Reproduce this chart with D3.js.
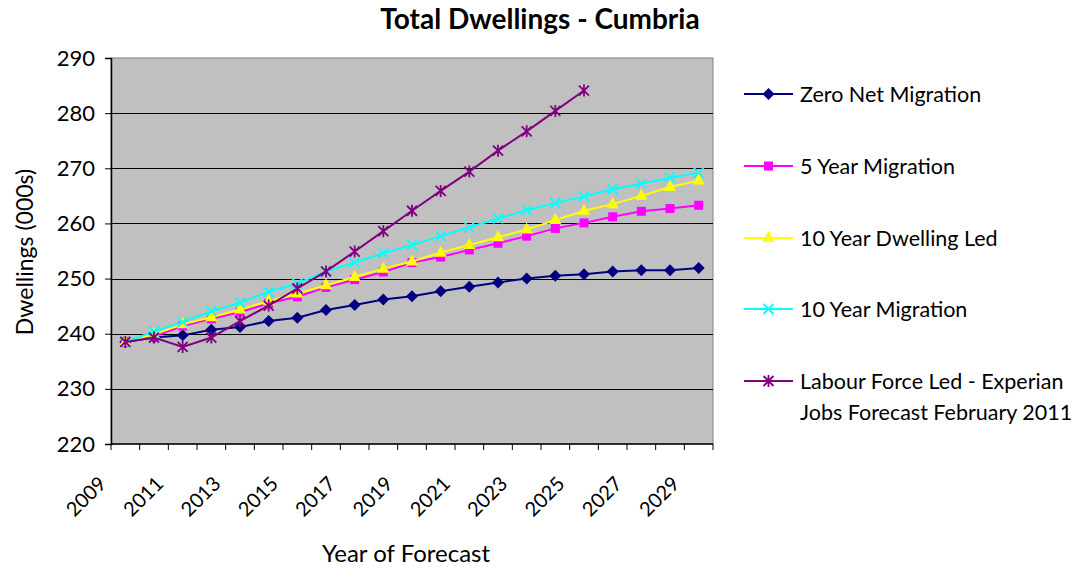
<!DOCTYPE html>
<html><head><meta charset="utf-8">
<script src="https://cdn.jsdelivr.net/npm/d3@7"></script>
<style>
html,body{margin:0;padding:0;background:#fff;}
svg text{font-family:Lato,"Open Sans",sans-serif;fill:#000;}
</style></head>
<body><svg id="c" width="1076" height="567"></svg>
<script>
const years = d3.range(2009, 2030).map(String);
const tickLabels = ["2009","2011","2013","2015","2017","2019","2021","2023","2025","2027","2029"];
const yTicks = [220,230,240,250,260,270,280,290];
const seriesNames = ["Zero Net Migration","5 Year Migration","10 Year Dwelling Led","10 Year Migration","Labour Force Led - Experian|Jobs Forecast February 2011"];
const zeroNet = [238.5,239.3,239.7,240.7,241.2,242.3,242.9,244.3,245.2,246.2,246.8,247.7,248.5,249.3,250.0,250.5,250.8,251.3,251.5,251.5,251.9];
const fiveYear = [238.5,239.5,241.4,242.7,243.9,245.5,246.7,248.4,249.8,251.2,252.9,253.9,255.2,256.4,257.7,259.1,260.1,261.2,262.2,262.7,263.3];
const tenYearDwelling = [238.5,239.9,241.7,243.0,244.4,245.9,247.3,248.8,250.3,251.8,253.1,254.7,256.1,257.5,258.9,260.6,262.3,263.5,265.0,266.6,267.8];
const tenYearMigration = [238.5,240.4,242.1,244.1,245.6,247.6,249.1,251.3,252.9,254.6,256.1,257.7,259.3,260.9,262.4,263.7,264.9,266.2,267.2,268.3,269.2];
const labourForce = [238.5,239.3,237.6,239.3,242.3,245.1,248.2,251.3,254.9,258.6,262.3,265.9,269.4,273.2,276.7,280.4,284.1];
const colors = ["#000080","#FF00FF","#FFFF00","#00FFFF","#800080"];
const markers = ["diamond","square","triangle","x","star"];
const allSeries = [zeroNet, fiveYear, tenYearDwelling, tenYearMigration, labourForce];

const svg = d3.select("#c");
const L = 111, R = 713, T = 58, B = 444;
const x = d3.scaleBand().domain(years).range([L, R]).paddingInner(0).paddingOuter(0);
const y = d3.scaleLinear().domain([220, 290]).range([B, T]);
const cx = d => x(d) + x.bandwidth() / 2;

// plot background
svg.append("rect").attr("x", L).attr("y", T).attr("width", R - L).attr("height", B - T)
  .attr("fill", "#C0C0C0").attr("stroke", "#808080").attr("stroke-width", 1);

// gridlines
svg.append("g").selectAll("line").data(yTicks.filter(v => v > 220 && v < 290)).join("line")
  .attr("x1", L).attr("x2", R).attr("y1", d => Math.round(y(d)) + 0.5).attr("y2", d => Math.round(y(d)) + 0.5)
  .attr("stroke", "#000").attr("stroke-width", 1);

// y axis
const ya = svg.append("g").attr("transform", `translate(${L},0)`)
  .call(d3.axisLeft(y).tickValues(yTicks).tickSize(6).tickPadding(10).tickFormat(d3.format("d")));
ya.select(".domain").attr("stroke", "#000").attr("stroke-width", 1.5);
ya.selectAll(".tick line").attr("stroke", "#000");
ya.selectAll("text").style("font-size", "22px").attr("fill", "#000");

// x axis
const xEdges = years.map(d => x(d)).concat([R]);
svg.append("line").attr("x1", L).attr("x2", R).attr("y1", B).attr("y2", B).attr("stroke", "#000").attr("stroke-width", 1.5);
svg.append("g").selectAll("line").data(xEdges).join("line")
  .attr("x1", d => d).attr("x2", d => d).attr("y1", B).attr("y2", B + 6).attr("stroke", "#000");
svg.append("g").selectAll("text").data(tickLabels).join("text")
  .attr("transform", d => `translate(${cx(d) - 18},${B + 41}) rotate(-45)`)
  .attr("text-anchor", "end").style("font-size", "20px").text(d => d);

// lines and markers
const line = d3.line().x((d, i) => cx(years[i])).y(d => y(d));
function drawMarker(g, type, color, px, py) {
  if (type === "diamond") {
    g.append("path").attr("d", `M${px},${py-6}L${px+6},${py}L${px},${py+6}L${px-6},${py}Z`).attr("fill", color);
  } else if (type === "square") {
    g.append("rect").attr("x", px - 4.5).attr("y", py - 4.5).attr("width", 9).attr("height", 9).attr("fill", color);
  } else if (type === "triangle") {
    g.append("path").attr("d", `M${px},${py-7}L${px+6},${py+4}L${px-6},${py+4}Z`).attr("fill", color);
  } else if (type === "x") {
    g.append("path").attr("d", `M${px-5},${py-5}L${px+5},${py+5}M${px-5},${py+5}L${px+5},${py-5}`).attr("stroke", color).attr("stroke-width", 1.8);
  } else if (type === "star") {
    g.append("path").attr("d", `M${px-5},${py-5}L${px+5},${py+5}M${px-5},${py+5}L${px+5},${py-5}M${px},${py-6}L${px},${py+6}`).attr("stroke", color).attr("stroke-width", 1.8);
  }
}
allSeries.forEach((s, k) => {
  const g = svg.append("g");
  g.append("path").datum(s).attr("d", line).attr("fill", "none").attr("stroke", colors[k]).attr("stroke-width", 2);
  s.forEach((v, i) => drawMarker(g, markers[k], colors[k], cx(years[i]), y(v)));
});

// legend
const legY = [94, 166, 238, 309, 381];
seriesNames.forEach((name, k) => {
  const g = svg.append("g");
  g.append("line").attr("x1", 744).attr("x2", 793).attr("y1", legY[k]).attr("y2", legY[k]).attr("stroke", colors[k]).attr("stroke-width", 2);
  drawMarker(g, markers[k], colors[k], 768.5, legY[k]);
  const parts = name.split("|");
  parts.forEach((p, j) => {
    g.append("text").attr("x", 800).attr("y", legY[k] + 7.5 + j * 31).style("font-size", "21.5px").text(p);
  });
});

// titles
svg.append("text").attr("x", 540).attr("y", 29).attr("text-anchor", "middle")
  .style("font-size", "28px").style("font-weight", "bold").text("Total Dwellings - Cumbria");
svg.append("text").attr("transform", "translate(33,252) rotate(-90)").attr("text-anchor", "middle")
  .style("font-size", "23px").text("Dwellings (000s)");
svg.append("text").attr("x", 406).attr("y", 562).attr("text-anchor", "middle")
  .style("font-size", "24px").text("Year of Forecast");
</script></body></html>
